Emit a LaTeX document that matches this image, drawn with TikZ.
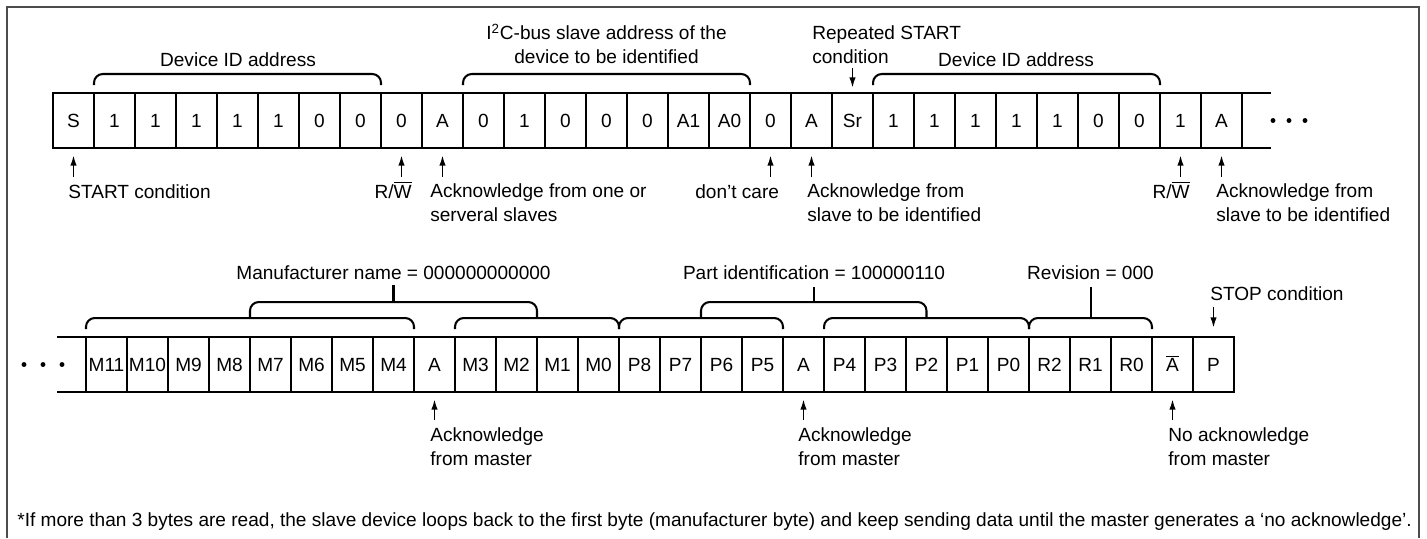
\documentclass[tikz,border=0pt]{standalone}
\usepackage{fontspec}
\setmainfont{Liberation Sans}
\usetikzlibrary{calc,arrows.meta}

% bracket over a run of bits, with a coordinate at its top middle
\newcommand{\bitbrace}[3]{%
  \draw[brace] ($(#1.north west)+(0,-8)$) |- ($(#2.north east)+(0,-19)$)
    -- ($(#2.north east)+(0,-8)$);
  \coordinate (#3) at ($(#1.north west)!0.5!(#2.north east)+(0,-19)$);}

\begin{document}
\begin{tikzpicture}[x=0.02cm, y=-0.02cm, >={Latex[length=6pt,width=3.6pt]},
    every node/.style={font=\fontsize{10.85}{13.1}\selectfont},
    cell/.style={draw, line width=1.35pt, minimum width=0.82cm, minimum height=1.1cm,
      inner sep=0pt, outer sep=0pt, text height=7.9pt, text depth=0pt},
    rowline/.style={line width=1.35pt},
    brace/.style={line width=1.15pt, rounded corners=5pt},
    pointer/.style={->, line width=1pt},
    lbl/.style={anchor=base west, align=left, inner sep=0pt}]
    \useasboundingbox (0,0) rectangle (1427,538);

    % frame
    \draw[black!70, line width=0.9pt] (7,538) -- (7,7) -- (1419,7) -- (1419,538);

    % first row of bits
    \foreach \b [count=\i] in {S,1,1,1,1,1,0,0,0,A,0,1,0,0,0,A1,A0,0,A,Sr,1,1,1,1,1,0,0,1,A}
      \node[cell] (t\i) at ({53+41*(\i-0.5)}, 120.5) {\b};
    \draw[rowline] (t29.north east) -- ++(29,0);
    \draw[rowline] (t29.south east) -- ++(29,0);
    \foreach \x in {1273,1289,1305}
      \fill (\x,120.5) circle (1.4pt);

    % second row of bits
    \foreach \b [count=\i] in {M11,M10,M9,M8,M7,M6,M5,M4,A,M3,M2,M1,M0,P8,P7,P6,P5,A,%
        P4,P3,P2,P1,P0,R2,R1,R0,{$\overline{\hbox{A}}$},P}
      \node[cell] (b\i) at ({86+41*(\i-0.5)}, 364.5) {\b};
    \draw[rowline] (b1.north west) -- ++(-29,0);
    \draw[rowline] (b1.south west) -- ++(-29,0);
    \foreach \x in {24,43,62}
      \fill (\x,364.5) circle (1.4pt);

    % brackets over the first row
    \bitbrace{t2}{t8}{dev1}
    \bitbrace{t11}{t17}{slv}
    \bitbrace{t21}{t27}{dev2}
    \node[anchor=base] (lbldev1) at (238,66) {Device ID address};
    \node[anchor=base, align=center] (lblslv) at (606.5,63)
      {I\textsuperscript{2}C-bus slave address of the\\device to be identified};
    \node[anchor=base] (lbldev2) at (1016,66) {Device ID address};
    \node[lbl] (lblsr) at (812,63) {Repeated START\\condition};
    \draw[pointer] ($(t20.north)+(0,-25)$) -- ($(t20.north)+(0,-5)$);

    % pointers under the first row
    \foreach \c in {t1,t9,t10,t18,t19,t28,t29}
      \draw[pointer] ($(\c.south)+(0,29)$) -- ($(\c.south)+(0,7)$);
    \node[lbl] (lblstart) at (68,198) {START condition};
    \node[anchor=base east, inner sep=0pt] (lblrw1) at (412,198) {R/$\overline{\hbox{W}}$};
    \node[lbl] (lblack1) at (430,221) {Acknowledge from one or\\serveral slaves};
    \node[lbl] (lblcare) at (695,198) {don’t care};
    \node[lbl] (lblack2) at (807,221) {Acknowledge from\\slave to be identified};
    \node[anchor=base east, inner sep=0pt] (lblrw2) at (1190,198) {R/$\overline{\hbox{W}}$};
    \node[lbl] (lblack3) at (1216,221) {Acknowledge from\\slave to be identified};

    % brackets over the second row
    \bitbrace{b1}{b8}{man1}
    \bitbrace{b10}{b13}{man2}
    \bitbrace{b14}{b17}{part1}
    \bitbrace{b19}{b23}{part2}
    \bitbrace{b24}{b26}{rev}
    \coordinate (jman) at ($(man1)!0.5!(man2)+(0,-16)$);
    \coordinate (jpart) at ($(part1)!0.5!(part2)+(0,-16)$);
    \node[anchor=base] (lblman) at (393.5,279) {Manufacturer name = 000000000000};
    \node[anchor=base] (lblpart) at (814,279) {Part identification = 100000110};
    \node[anchor=base] (lblrev) at (1090.5,279) {Revision = 000};
    \draw[brace] (man1) |- (jman) -| (man2);
    \draw[line width=1.15pt] (jman) -- (jman |- lblman.south);
    \draw[brace] (part1) |- (jpart) -| (part2);
    \draw[line width=1.15pt] (jpart) -- ++(0,-15);
    \draw[line width=1.15pt] (rev) -- ++(0,-31);
    \node[lbl] (lblstop) at (1210,300) {STOP condition};
    \draw[pointer] ($(b28.north)+(0,-30)$) -- ($(b28.north)+(0,-9)$);

    % pointers under the second row
    \foreach \c in {b9,b18,b27}
      \draw[pointer] ($(\c.south)+(0,28)$) -- ($(\c.south)+(0,7)$);
    \node[lbl] (lblm1) at (430,465) {Acknowledge\\from master};
    \node[lbl] (lblm2) at (798,465) {Acknowledge\\from master};
    \node[lbl] (lblm3) at (1168,465) {No acknowledge\\from master};

    % note
    \node[lbl] (note) at (17,526) {*If more than 3 bytes are read, the slave device loops back to the first byte (manufacturer byte) and keep sending data until the master generates a ‘no acknowledge’.};
\end{tikzpicture}
\end{document}
